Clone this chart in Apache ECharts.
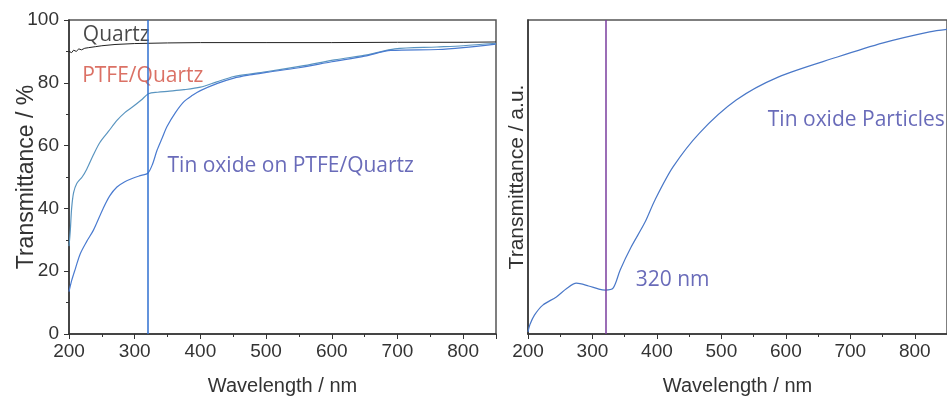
<!DOCTYPE html>
<html>
<head>
<meta charset="utf-8">
<script src="https://cdn.jsdelivr.net/npm/echarts@6/dist/echarts.min.js"></script>
<style>
html, body { margin: 0; padding: 0; background: #fff; }
#chart { width: 947px; height: 401px; }
</style>
</head>
<body>
<div id="chart"></div>
<script>
// left panel: transmittance / %
const quartz = [
    [200, 90.0], [204, 89.6], [207, 90.4], [211, 90.0], [215, 90.8], [219, 90.5],
    [224, 91.0], [230, 91.2], [240, 91.5], [250, 91.8], [270, 92.2], [300, 92.5],
    [350, 92.7], [400, 92.8], [500, 92.8], [600, 92.8], [700, 92.9], [800, 92.9], [850, 93.0],
];
const ptfe_quartz = [
    [200, 28], [202, 33], [204, 40], [207, 45], [212, 48], [220, 50], [227, 52.5],
    [237, 57], [247, 61], [260, 64.5], [273, 68], [285, 70.5], [298, 72.5], [310, 74.5],
    [321, 76.5], [335, 77], [350, 77.3], [375, 77.8], [400, 78.6], [425, 80.3], [451, 82],
    [475, 82.8], [502, 83.6], [553, 85.3], [604, 87.3], [656, 89], [696, 90.8],
    [760, 91.4], [800, 91.8], [850, 92.6],
];
const tin_oxide_ptfe = [
    [200, 13.5], [204, 17], [210, 21], [217, 25.5], [227, 29.5], [237, 33], [252, 40],
    [262, 44], [273, 46.8], [285, 48.5], [298, 49.7], [310, 50.5], [320, 51.2], [327, 54],
    [334, 58.5], [342, 62.5], [349, 66], [362, 70.5], [375, 74], [388, 76], [400, 77.5],
    [426, 79.8], [451, 81.5], [475, 82.5], [500, 83.3], [550, 84.8], [600, 86.7],
    [650, 88.5], [690, 90.3], [762, 90.6], [800, 91.2], [850, 92.3],
];

// right panel: transmittance / a.u.
const tin_oxide_particles = [
    [200, 0.7], [203, 3], [210, 6], [223, 9.2], [244, 11.8], [260, 14.5], [275, 16.2],
    [294, 15.3], [310, 14.3], [320, 14], [332, 14.6], [343, 20.4], [360, 27.7],
    [381, 35.4], [397, 42.7], [425, 53.2], [466, 64], [523, 74.5], [588, 81.8],
    [680, 88.2], [751, 92.7], [823, 96.2], [850, 97],
];

const marker_wavelength = 320;

// annotations: [wavelength, value, text]
const left_labels = [
    [221, 95.3, "Quartz"],
    [220, 82.3, "PTFE/Quartz"],
    [350, 53.5, "Tin oxide on PTFE/Quartz"],
];
const left_label_colors = ["#1a1a1a", "#d24e3e", "#4346a8"];
const right_labels = [
    [572, 68.3, "Tin oxide Particles"],
    [367, 17.3, "320 nm"],
];

const x_name = "Wavelength / nm";
const y_name_left = "Transmittance / %";
const y_name_right = "Transmittance / a.u.";

const tick_font = "Liberation Sans";
const label_font = "Open Sans";

const make_x_axis = function (grid_index) {
    return {
        gridIndex: grid_index,
        type: "value",
        min: 200,
        max: 850,
        interval: 100,
        name: x_name,
        nameLocation: "middle",
        nameGap: 42,
        nameMoveOverlap: false,
        nameTextStyle: { fontFamily: tick_font, fontSize: 20, color: "#333" },
        splitLine: { show: false },
        axisLine: { lineStyle: { color: "#333", width: 1.5 } },
        axisTick: { length: 5, lineStyle: { color: "#333" } },
        minorTick: { show: true, splitNumber: 2, length: 3, lineStyle: { color: "#333" } },
        axisLabel: {
            fontFamily: tick_font, fontSize: 19, color: "#333", margin: 8,
            showMaxLabel: false,
        },
    };
};

const make_label_series = function (x_index, items, colors) {
    return {
        type: "scatter",
        xAxisIndex: x_index,
        yAxisIndex: x_index,
        symbolSize: 0,
        silent: true,
        data: items.map((d, i) => ({
            value: [d[0], d[1]],
            label: {
                show: true,
                formatter: d[2],
                position: [0, 0],
                align: "left",
                verticalAlign: "middle",
                fontFamily: label_font,
                fontSize: 21,
                color: colors ? colors[i] : "#4346a8",
            },
        })),
    };
};

const config = {
    animation: false,
    backgroundColor: "#fff",
    grid: [
        { left: 69, top: 20, width: 427, height: 314, show: true, borderColor: "#555", borderWidth: 1.5 },
        { left: 528, top: 20, width: 427, height: 314, show: true, borderColor: "#555", borderWidth: 1.5 },
    ],
    xAxis: [make_x_axis(0), make_x_axis(1)],
    yAxis: [
        {
            gridIndex: 0,
            type: "value",
            min: 0,
            max: 100,
            interval: 20,
            name: y_name_left,
            nameLocation: "middle",
            nameGap: 31,
            nameMoveOverlap: false,
            nameTextStyle: { fontFamily: tick_font, fontSize: 23, color: "#333" },
            splitLine: { show: false },
            axisLine: { lineStyle: { color: "#333", width: 1.5 } },
            axisTick: { length: 5, lineStyle: { color: "#333" } },
            minorTick: { show: true, splitNumber: 2, length: 3, lineStyle: { color: "#333" } },
            axisLabel: { fontFamily: tick_font, fontSize: 19, color: "#333", margin: 10 },
        },
        {
            gridIndex: 1,
            type: "value",
            min: 0,
            max: 100,
            name: y_name_right,
            nameLocation: "middle",
            nameGap: 0,
            nameMoveOverlap: false,
            nameTextStyle: { fontFamily: tick_font, fontSize: 21, color: "#333" },
            splitLine: { show: false },
            axisLine: { lineStyle: { color: "#333", width: 1.5 } },
            axisTick: { show: false },
            axisLabel: { show: false },
        },
    ],
    series: [
        {
            name: "Quartz",
            type: "line",
            xAxisIndex: 0,
            yAxisIndex: 0,
            showSymbol: false,
            data: quartz,
            lineStyle: { color: "#222", width: 1 },
        },
        {
            name: "PTFE/Quartz",
            type: "line",
            xAxisIndex: 0,
            yAxisIndex: 0,
            showSymbol: false,
            smooth: 0.3,
            data: ptfe_quartz,
            lineStyle: { color: "#5a95c0", width: 1.2 },
        },
        {
            name: "Tin oxide on PTFE/Quartz",
            type: "line",
            xAxisIndex: 0,
            yAxisIndex: 0,
            showSymbol: false,
            smooth: 0.3,
            data: tin_oxide_ptfe,
            lineStyle: { color: "#4a7bd0", width: 1.2 },
            markLine: {
                silent: true,
                symbol: "none",
                label: { show: false },
                lineStyle: { color: "#2f6fd0", width: 1.5, type: "solid" },
                data: [{ xAxis: marker_wavelength }],
            },
        },
        {
            name: "Tin oxide Particles",
            type: "line",
            xAxisIndex: 1,
            yAxisIndex: 1,
            showSymbol: false,
            smooth: 0.3,
            data: tin_oxide_particles,
            lineStyle: { color: "#4a78c8", width: 1.2 },
            markLine: {
                silent: true,
                symbol: "none",
                label: { show: false },
                lineStyle: { color: "#7a3d9e", width: 1.5, type: "solid" },
                data: [{ xAxis: marker_wavelength }],
            },
        },
        make_label_series(0, left_labels, left_label_colors),
        make_label_series(1, right_labels, null),
    ],
};

const echart_instance = echarts.init(document.getElementById("chart"));
echart_instance.setOption(config);
</script>
</body>
</html>
